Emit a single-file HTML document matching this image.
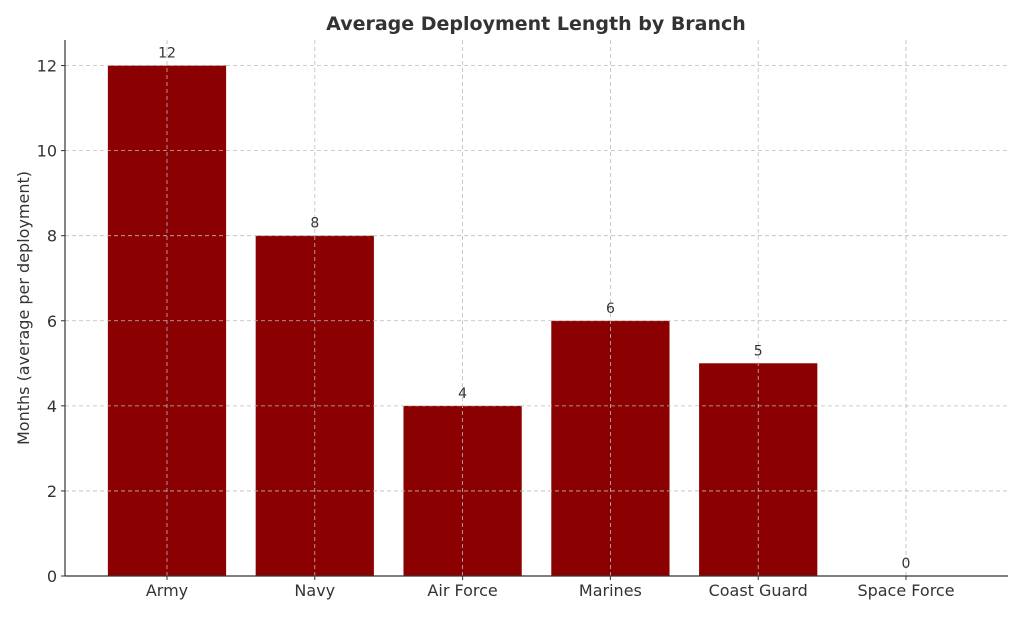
<!DOCTYPE html>
<html><head><meta charset="utf-8"><style>
body{margin:0;background:#fff;}
svg text{font-family:"DejaVu Sans","Liberation Sans",sans-serif;fill:#333;}
</style></head><body>
<svg width="1024" height="614">
<g id="bars"></g>
<g id="grid"></g>
<g id="labels"></g>
<g id="axes"></g>
<text x="536" y="30" text-anchor="middle" font-size="19" font-weight="bold">Average Deployment Length by Branch</text>
<text transform="translate(29,308) rotate(-90)" text-anchor="middle" font-size="16">Months (average per deployment)</text>
</svg>
<script>
const categories=["Army","Navy","Air Force","Marines","Coast Guard","Space Force"];
const values=[12,8,4,6,5,0];
const yTicks=[0,2,4,6,8,10,12];
const L=65,R=1008,T=40,B=576,yMax=12.6,xMin=-0.69,xMax=5.69;
const ys=v=>B-(v/yMax)*(B-T);
const xs=i=>L+(i-xMin)/(xMax-xMin)*(R-L);
const bw=0.8*(R-L)/(xMax-xMin);
const NS="http://www.w3.org/2000/svg";
function mk(t,a,p){const e=document.createElementNS(NS,t);for(const k in a)e.setAttribute(k,a[k]);document.getElementById(p).appendChild(e);return e;}
categories.forEach((c,i)=>{
 const r=mk("rect",{x:xs(i)-bw/2,y:ys(values[i]),width:bw,height:B-ys(values[i]),fill:"#8b0000"},"bars");
 
 
 const g=mk("line",{x1:xs(i),x2:xs(i),y1:T,y2:B,stroke:"#bbb","stroke-dasharray":"4,3","stroke-width":0.8},"grid");
 
 
 const t=mk("text",{x:xs(i),y:ys(values[i])-8,"text-anchor":"middle","font-size":14},"labels");
 t.textContent=values[i];
 
 
 const xt=mk("text",{x:xs(i),y:B+20,"text-anchor":"middle","font-size":16},"axes");
 xt.textContent=c;
 
 
 const tk=mk("line",{x1:xs(i),x2:xs(i),y1:B,y2:B+4,stroke:"#333"},"axes");
 
 
});
yTicks.forEach(v=>{
 const g=mk("line",{x1:L,x2:R,y1:ys(v),y2:ys(v),stroke:"#bbb","stroke-dasharray":"4,3","stroke-width":0.8},"grid");
 
 
 const t=mk("text",{x:L-8,y:ys(v)+6,"text-anchor":"end","font-size":16},"axes");
 t.textContent=v;
 
 
 const tk=mk("line",{x1:L-4,x2:L,y1:ys(v),y2:ys(v),stroke:"#333"},"axes");
 
 
});
const ya=mk("line",{x1:L,x2:L,y1:T,y2:B,stroke:"#333","stroke-width":1.2},"axes");


const xa=mk("line",{x1:L,x2:R,y1:B,y2:B,stroke:"#333","stroke-width":1.2},"axes");


</script>
</body></html>
